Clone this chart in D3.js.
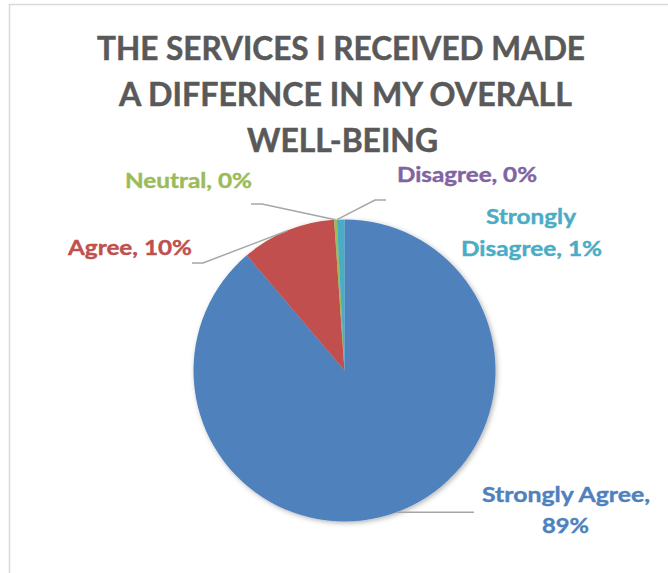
<!DOCTYPE html>
<html><head><meta charset="utf-8">
<script src="https://cdn.jsdelivr.net/npm/d3@7"></script>
<style>html,body{margin:0;padding:0;background:#fff;}svg{display:block;}</style>
</head><body>
<svg id="c" width="668" height="573"></svg>
<script>
// ---- data ----
const categories = ["Strongly Agree", "Agree", "Neutral", "Disagree", "Strongly Disagree"];
const values = [88.8, 10.1, 0.3, 0.0, 0.8];
const colors = ["#4F81BD", "#C0504D", "#9BBB59", "#8064A2", "#4BACC6"];
const titleLines = ["THE SERVICES I RECEIVED MADE", "A DIFFERNCE IN MY OVERALL", "WELL-BEING"];

// ---- layout ----
const cx = 344.5, cy = 370.5, R = 151;
const font = "Lato, 'Open Sans', sans-serif";
const titleLayout = [{x:341, y:60, w:488}, {x:345.5, y:106, w:453}, {x:342.5, y:152, w:191}];
// label layout: lines of text, centre x, baselines, widths, leader elbow points
const labelLayout = [
  {lines:[{x:566, y:502, w:168}, {x:565.5, y:533, w:47}], split:true, leader:[[474, null]]},
  {lines:[{x:130, y:255, w:124}], leader:[[203,263],[192,263]]},
  {lines:[{x:188.5, y:188, w:127}], leader:[[262,204],[251,204]]},
  {lines:[{x:467, y:182, w:140}], leader:[[375,200],[386,200]]},
  {lines:[{x:531, y:224, w:90}, {x:531.5, y:256, w:141}], splitWord:true, leader:null}
];

const svg = d3.select("#c");
const defs = svg.append("defs");
const f = defs.append("filter").attr("id","sh").attr("x","-20%").attr("y","-20%").attr("width","140%").attr("height","140%");
f.append("feDropShadow").attr("dx",1.5).attr("dy",1.5).attr("stdDeviation",2.5)
  .attr("flood-color","#000").attr("flood-opacity",0.3);

// frame
svg.append("rect").attr("x",9.5).attr("y",4.5).attr("width",700).attr("height",600)
  .attr("fill","#fff").attr("stroke","#d9d9d9").attr("stroke-width",1.5);

// title
svg.append("g").selectAll("text").data(titleLines).join("text")
  .attr("x",(d,i)=>titleLayout[i].x).attr("y",(d,i)=>titleLayout[i].y)
  .attr("text-anchor","middle").attr("font-family",font).attr("font-weight",700)
  .attr("font-size",32).attr("fill","#595959")
  .attr("stroke","#595959").attr("stroke-width",0.5)
  .attr("textLength",(d,i)=>titleLayout[i].w).attr("lengthAdjust","spacingAndGlyphs")
  .text(d=>d);

// pie
const data = categories.map((c,i)=>({cat:c, value:values[i], color:colors[i], i}));
const pie = d3.pie().value(d=>d.value).sort(null).startAngle(0).endAngle(2*Math.PI);
const arcs = pie(data);
const arc = d3.arc().innerRadius(0).outerRadius(R);

const g = svg.append("g").attr("transform",`translate(${cx},${cy})`);
g.append("g").attr("filter","url(#sh)").selectAll("path").data(arcs).join("path")
  .attr("d",arc).attr("fill",d=>d.data.color);

// leader lines
const lineG = svg.append("g");
arcs.forEach((a,i)=>{
  const L = labelLayout[i];
  if(!L.leader) return;
  const mid = (a.startAngle + a.endAngle)/2;
  const p0 = [cx + R*Math.sin(mid), cy - R*Math.cos(mid)];
  const pts = [p0].concat(L.leader.map(p=>[p[0], p[1]===null ? p0[1] : p[1]]));
  lineG.append("path").attr("d", d3.line()(pts))
    .attr("fill","none").attr("stroke","#a6a6a6").attr("stroke-width",1.5);
});

// labels
const labG = svg.append("g");
arcs.forEach((a,i)=>{
  const L = labelLayout[i];
  const pct = Math.round(a.data.value) + "%";
  let texts;
  if(L.split) texts = [a.data.cat + ",", pct];
  else if(L.splitWord){ const w = a.data.cat.split(" "); texts = [w[0], w.slice(1).join(" ") + ", " + pct]; }
  else texts = [a.data.cat + ", " + pct];
  texts.forEach((t,k)=>{
    const ln = L.lines[k];
    labG.append("text").attr("x",ln.x).attr("y",ln.y).attr("text-anchor","middle")
      .attr("font-family",font).attr("font-weight",700).attr("font-size",21.5)
      .attr("fill",a.data.color).attr("stroke",a.data.color).attr("stroke-width",0.4)
      .attr("textLength",ln.w).attr("lengthAdjust","spacingAndGlyphs")
      .text(t);
  });
});
</script>
</body></html>
